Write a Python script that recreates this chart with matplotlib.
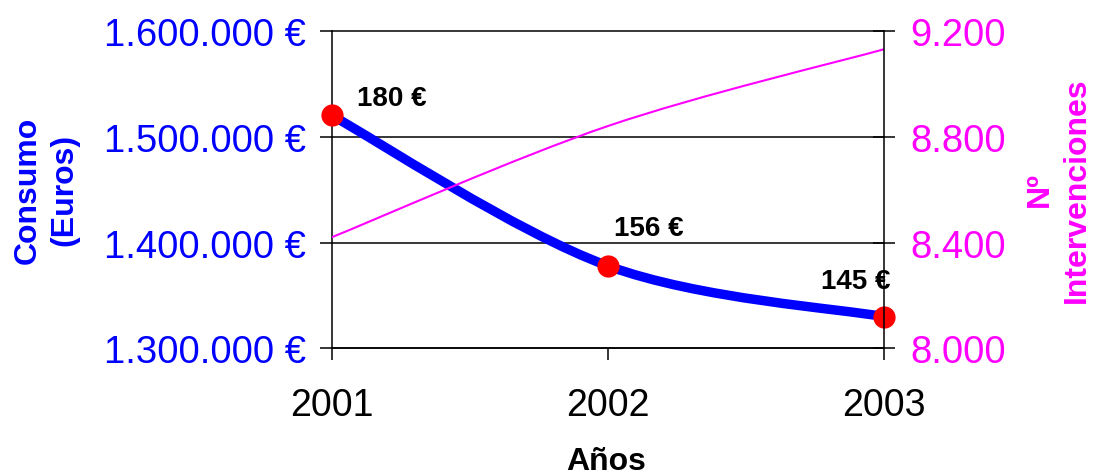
import matplotlib
matplotlib.use("Agg")
import matplotlib.pyplot as plt
from matplotlib.path import Path
from matplotlib.patches import PathPatch

plt.rcParams["font.family"] = ["Liberation Sans", "DejaVu Sans"]

years = [2001, 2002, 2003]
consumo = [1520000, 1378000, 1330000]          # euros
intervenciones = [8420, 8840, 9130]
coste_labels = ["180 €", "156 €", "145 €"]

left_ticks = [1300000, 1400000, 1500000, 1600000]
left_tick_labels = ["1.300.000 €", "1.400.000 €", "1.500.000 €", "1.600.000 €"]
right_ticks = [8000, 8400, 8800, 9200]
right_tick_labels = ["8.000", "8.400", "8.800", "9.200"]

BLUE = "#0000ff"
MAGENTA = "#ff00ff"


def smooth_path(xs, ys):
    # excel-like smoothed line: catmull-rom as cubic bezier segments
    n = len(xs)
    verts = [(xs[0], ys[0])]
    codes = [Path.MOVETO]
    for i in range(n - 1):
        x0, y0 = (xs[i - 1], ys[i - 1]) if i > 0 else (xs[i], ys[i])
        x3, y3 = (xs[i + 2], ys[i + 2]) if i + 2 < n else (xs[i + 1], ys[i + 1])
        c1 = (xs[i] + (xs[i + 1] - x0) / 6, ys[i] + (ys[i + 1] - y0) / 6)
        c2 = (xs[i + 1] - (x3 - xs[i]) / 6, ys[i + 1] - (y3 - ys[i]) / 6)
        verts += [c1, c2, (xs[i + 1], ys[i + 1])]
        codes += [Path.CURVE4] * 3
    return Path(verts, codes)


fig = plt.figure(figsize=(10.93, 4.77), dpi=100)
ax1 = fig.add_axes([0.3035, 0.2673, 0.8088 - 0.3035, 0.9335 - 0.2673])
ax2 = ax1.twinx()

ax1.set_xlim(2001, 2003)
ax1.set_ylim(1300000, 1600000)
ax2.set_ylim(8000, 9200)

# grid
for v in left_ticks:
    ax1.axhline(v, color="black", lw=1.1, zorder=1, clip_on=False)

# consumo line (blue, thick) + red markers
ax1.add_patch(PathPatch(smooth_path(years, consumo), fill=False, edgecolor=BLUE,
                        lw=6.8, capstyle="round", joinstyle="round", zorder=2))
ax1.plot(years, consumo, linestyle="none", marker="o", markersize=16,
         color="red", markeredgewidth=0, zorder=4, clip_on=False)

offsets = [(25, 10), (6, 31), (-63, 29)]
for x, y, lab, off in zip(years, consumo, coste_labels, offsets):
    ax1.annotate(lab, (x, y), xytext=off, textcoords="offset pixels",
                 ha="left", va="baseline", fontsize=20, fontweight="bold",
                 color="black", zorder=5, annotation_clip=False)

# intervenciones line (magenta, thin)
ax2.add_patch(PathPatch(smooth_path(years, intervenciones), fill=False,
                        edgecolor=MAGENTA, lw=1.5, zorder=2))

# axes styling
for ax in (ax1, ax2):
    for s in ax.spines.values():
        s.set_visible(False)
ax1.spines["left"].set_visible(True)
ax1.spines["bottom"].set_visible(True)
ax2.spines["right"].set_visible(True)
for s in (ax1.spines["left"], ax1.spines["bottom"], ax2.spines["right"]):
    s.set_linewidth(1.1)
    s.set_color("black")

ax1.set_xticks(years)
ax1.set_xticklabels([str(y) for y in years])
ax1.set_yticks(left_ticks)
ax1.set_yticklabels(left_tick_labels)
ax2.set_yticks(right_ticks)
ax2.set_yticklabels(right_tick_labels)

ax1.tick_params(axis="x", direction="out", length=8.6, width=1.1, pad=19,
                labelsize=27, colors="black")
ax1.tick_params(axis="y", direction="out", length=8.6, width=1.1, pad=10,
                labelsize=27.5, labelcolor=BLUE, color="black")
ax2.tick_params(axis="y", direction="inout", length=15.8, width=1.1, pad=11,
                labelsize=27.5, labelcolor=MAGENTA, color="black")

fig.text(606 / 1093, 1 - 470 / 477, "Años", ha="center", va="baseline",
         fontsize=23, fontweight="bold", color="black")
fig.text(46 / 1093, 1 - 190 / 477, "Consumo\n(Euros)", ha="center", va="center",
         rotation=90, fontsize=23, fontweight="bold", color=BLUE,
         multialignment="center", linespacing=1.3)
fig.text(1058 / 1093, 1 - 190 / 477, "Nº\nIntervenciones", ha="center",
         va="center", rotation=90, fontsize=23, fontweight="bold",
         color=MAGENTA, multialignment="center", linespacing=1.3)

fig.savefig("out.png", dpi=100)
